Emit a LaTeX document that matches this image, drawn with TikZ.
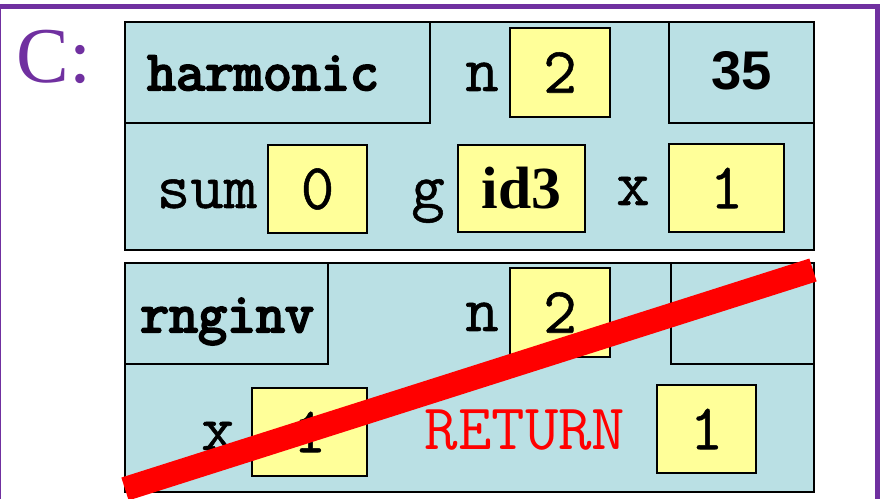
\documentclass[tikz,border=0pt]{standalone}
\usepackage{fontspec}
\usepackage{xcolor}
\newfontfamily\numfont{Liberation Sans}
\newfontfamily\idfont{Liberation Serif}
\newfontfamily\headfont{Latin Modern Mono}[FakeBold=4]
\newfontfamily\labfont{Latin Modern Mono}[FakeBold=0.8]
\definecolor{framebg}{RGB}{186,224,228}
\definecolor{valbg}{RGB}{255,255,153}
\definecolor{heappurple}{RGB}{112,48,160}

\begin{document}
\begin{tikzpicture}[x=0.02cm, y=-0.02cm,
  framebox/.style={draw=black, fill=framebg, line width=0.04cm},
  valbox/.style={draw=black, fill=valbg, line width=0.03cm, inner sep=0pt, font=\labfont\fontsize{37}{37}\selectfont},
  varname/.style={anchor=base, inner sep=0pt, font=\labfont\fontsize{37}{37}\selectfont},
  framename/.style={anchor=base, inner sep=0pt, font=\headfont\fontsize{32}{32}\selectfont}]
  \useasboundingbox (0,0) rectangle (883,499);
  \draw[heappurple, line width=0.1cm] (-1,6.5) rectangle (877.5,530);
  \node[anchor=base west, inner sep=0pt, text=heappurple, font=\idfont\fontsize{45}{45}\selectfont] (heapname) at (16,83) {C:};
  \draw[framebox] (125,22) rectangle (814,250);
  \draw[framebox] (125,22) rectangle (430,123);
  \draw[framebox] (669,22) rectangle (814,123);
  \node[framename] (hname) at (263,90) {harmonic};
  \node[anchor=base, inner sep=0pt, font=\numfont\bfseries\fontsize{31}{31}\selectfont] (hline) at (742,90) {35};
  \node[varname] (hnlab) at (482,91) {n};
  \node[valbox, minimum width=2cm, minimum height=1.78cm] (hn) at (560,72.5) {2};
  \node[varname] (hsumlab) at (207,208) {sum};
  \node[valbox, minimum width=1.98cm, minimum height=1.76cm] (hsum) at (317.5,189) {0};
  \node[varname] (hglab) at (428,208) {g};
  \node[valbox, minimum width=2.54cm, minimum height=1.74cm, font=\idfont\bfseries\fontsize{34}{34}\selectfont] (hg) at (521.5,188.5) {id3};
  \node[varname] (hxlab) at (633,205) {x};
  \node[valbox, minimum width=2.3cm, minimum height=1.76cm] (hx) at (726.5,188) {1};
  \draw[framebox] (125,263) rectangle (814,492);
  \draw[framebox] (125,263) rectangle (328,364);
  \draw[framebox] (671,263) rectangle (814,364);
  \node[framename] (rname) at (227,332) {rnginv};
  \node[varname] (rnlab) at (482,331) {n};
  \node[valbox, minimum width=2cm, minimum height=1.78cm] (rn) at (560,312.5) {2};
  \node[varname] (rxlab) at (218,450) {x};
  \node[valbox, minimum width=2.3cm, minimum height=1.76cm] (rx) at (309.5,432) {1};
  \node[varname, text=red, font=\ttfamily\fontsize{37}{37}\selectfont] (rretlab) at (525,450) {RETURN};
  \node[valbox, minimum width=1.98cm, minimum height=1.76cm] (rret) at (706.5,429) {1};
  \coordinate (crossa) at (125,489);
  \coordinate (crossb) at (813,270);
  \draw[red, line width=0.48cm] (crossa) -- (crossb);
\end{tikzpicture}
\end{document}
